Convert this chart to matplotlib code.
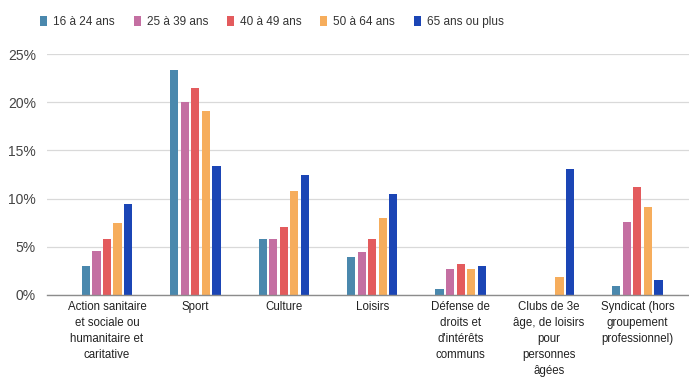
import matplotlib
matplotlib.use("Agg")
import matplotlib.pyplot as plt
import numpy as np
from matplotlib.ticker import FuncFormatter

plt.rcParams['font.family'] = ['Liberation Sans', 'DejaVu Sans']

categories = [
    "Action sanitaire\net sociale ou\nhumanitaire et\ncaritative",
    "Sport",
    "Culture",
    "Loisirs",
    "Défense de\ndroits et\nd'intérêts\ncommuns",
    "Clubs de 3e\nâge, de loisirs\npour\npersonnes\nâgées",
    "Syndicat (hors\ngroupement\nprofessionnel)",
]
series_names = ["16 à 24 ans", "25 à 39 ans", "40 à 49 ans", "50 à 64 ans", "65 ans ou plus"]
age_16_24 = [3.0, 23.3, 5.8, 3.9, 0.6, 0.0, 0.9]
age_25_39 = [4.6, 20.0, 5.8, 4.5, 2.7, 0.0, 7.6]
age_40_49 = [5.8, 21.5, 7.1, 5.8, 3.2, 0.0, 11.2]
age_50_64 = [7.5, 19.1, 10.8, 8.0, 2.7, 1.9, 9.1]
age_65_plus = [9.4, 13.4, 12.4, 10.5, 3.0, 13.1, 1.6]
series = [age_16_24, age_25_39, age_40_49, age_50_64, age_65_plus]
colors = ["#4a88ad", "#c46fa2", "#e35b5d", "#f6ad5c", "#1b45b5"]
y_ticks = [0, 5, 10, 15, 20, 25]

fig = plt.figure(figsize=(6.89, 3.78), dpi=100)
ax = fig.add_axes([47 / 689, 1 - 295 / 378, 642 / 689, (295 - 54) / 378])

x = np.arange(len(categories))
step = 0.119
width = 0.092
for i, (vals, col, name) in enumerate(zip(series, colors, series_names)):
    offs = (i - 2) * step
    ax.bar(x + offs, vals, width=width, color=col, label=name, zorder=3)

ax.set_xlim((47 - 107) / 88.4, (689 - 107) / 88.4)
ax.set_ylim(0, 25)
ax.set_yticks(y_ticks)
ax.yaxis.set_major_formatter(FuncFormatter(lambda v, p: f"{int(v)}%"))
ax.grid(axis="y", color="#d9d9d9", linewidth=0.9, zorder=0)
ax.set_axisbelow(True)
for s in ["top", "right", "left"]:
    ax.spines[s].set_visible(False)
ax.spines["bottom"].set_color("#8c8c8c")
ax.spines["bottom"].set_linewidth(1.0)
ax.spines["bottom"].set_zorder(4)
ax.tick_params(axis="y", length=0, labelsize=10, labelcolor="#444444", pad=8)
ax.tick_params(axis="x", length=0, labelsize=8.3, labelcolor="#222222", pad=4)
ax.set_xticks(x)
ax.set_xticklabels(categories, linespacing=1.45)

leg = fig.legend(loc="center", bbox_to_anchor=(272 / 689, 1 - 22 / 378), ncol=5,
                 frameon=False, fontsize=8.5, handlelength=0.6, handleheight=0.85,
                 handletextpad=0.5, columnspacing=1.6, labelcolor="#333333")

fig.savefig("out.png", dpi=100, facecolor="white")
